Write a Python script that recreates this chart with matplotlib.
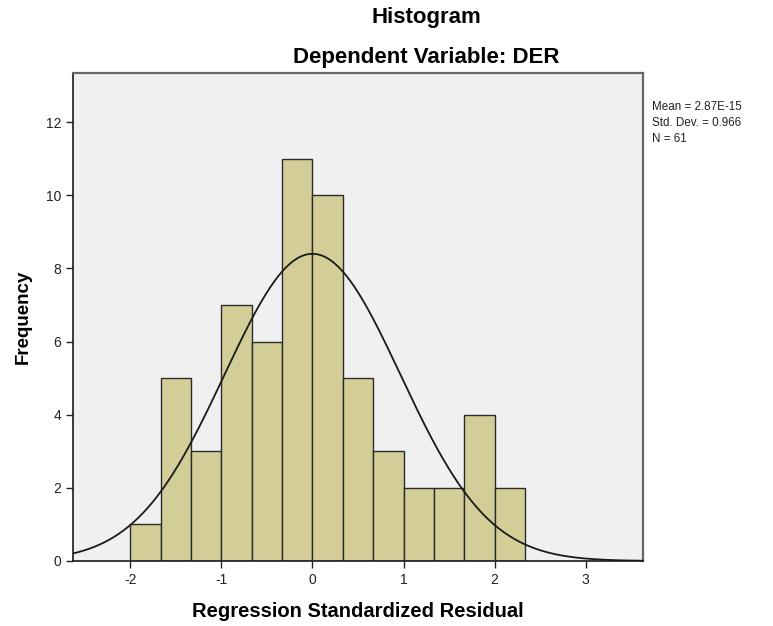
import matplotlib

matplotlib.use("Agg")
import matplotlib.pyplot as plt
import numpy as np

plt.rcParams["font.family"] = ["Liberation Sans", "DejaVu Sans"]
plt.rcParams["axes.unicode_minus"] = False

# Histogram of regression standardized residuals
bin_edges = [-2.0, -5 / 3, -4 / 3, -1.0, -2 / 3, -1 / 3, 0.0, 1 / 3, 2 / 3, 1.0,
             4 / 3, 5 / 3, 2.0, 7 / 3]
counts = [1, 5, 3, 7, 6, 11, 10, 5, 3, 2, 2, 4, 2]
mean = 2.87e-15
std_dev = 0.966
n_obs = 61

x_ticks = [-2, -1, 0, 1, 2, 3]
y_ticks = [0, 2, 4, 6, 8, 10, 12]

BAR_COLOR = "#d3ce97"
BG_COLOR = "#f0f0f0"

fig = plt.figure(figsize=(7.73, 6.26), dpi=100)
ax = fig.add_axes([73 / 773, 1 - 561 / 626, 570 / 773, 488 / 626])
ax.set_facecolor(BG_COLOR)

edges = np.array(bin_edges)
ax.bar(edges[:-1], counts, width=np.diff(edges), align="edge",
       color=BAR_COLOR, edgecolor="#2b2b2b", linewidth=1.0, zorder=2)

# normal curve scaled to the histogram
bw = edges[1] - edges[0]
xs = np.linspace(-2.63, 3.63, 400)
ys = n_obs * bw * np.exp(-0.5 * ((xs - mean) / std_dev) ** 2) / (std_dev * np.sqrt(2 * np.pi))
ax.plot(xs, ys, color="#1a1a1a", linewidth=1.3, zorder=3)

ax.set_xlim(-2.63, 3.63)
ax.set_ylim(0, 13.34)
ax.set_xticks(x_ticks)
ax.set_yticks(y_ticks)
ax.tick_params(direction="out", length=5, width=1, labelsize=10, colors="#222222",
               top=False, right=False)
for side in ("left", "bottom"):
    ax.spines[side].set_color("#1a1a1a")
    ax.spines[side].set_linewidth(1.2)
for side in ("top", "right"):
    ax.spines[side].set_color("#666666")
    ax.spines[side].set_linewidth(1.6)

ax.set_xlabel("Regression Standardized Residual", fontsize=14.5, fontweight="bold",
              labelpad=11)
ax.set_ylabel("Frequency", fontsize=13.5, fontweight="bold", labelpad=10)

fig.text(426 / 773, 1 - 18 / 626, "Histogram", ha="center", va="center",
         fontsize=16, fontweight="bold")
fig.text(426 / 773, 1 - 57 / 626, "Dependent Variable: DER", ha="center",
         va="center", fontsize=16, fontweight="bold")

stats = f"Mean = {mean:.2E}\nStd. Dev. = {std_dev}\nN = {n_obs}"
fig.text(652 / 773, 1 - 101 / 626, stats, ha="left", va="top", fontsize=8.4,
         linespacing=1.45, color="#222222")

fig.savefig("out.png", dpi=100)
plt.close(fig)
